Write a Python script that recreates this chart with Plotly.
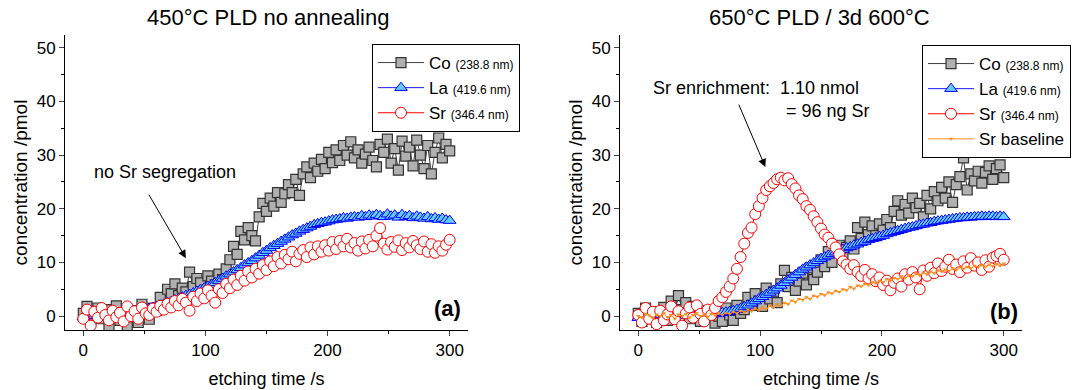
import plotly.graph_objects as go

# time axis (s), sampled every 3 s
t = list(range(0, 301, 3))

# ---- panel (a): 450°C PLD no annealing ----
co_a = [0.5, 1.8, -1.0, 0.8, 1.5, -0.5, 1.2, -1.8, 0.3, 1.9, -0.8, 0.6, -2.0, 1.0, 0.2, -1.2, 2.2, 0.5, -0.6, 1.5,
        1.0, 3.5, 2.0, 5.0, 4.2, 6.0, 3.8, 5.2, 4.5, 8.2,
        5.5, 7.0, 6.2, 4.8, 7.5, 6.5, 5.8, 7.8, 6.8, 8.8,
        10.5, 13.0, 11.5, 15.8, 14.2, 16.5, 15.0, 14.0, 18.5, 21.0,
        19.5, 22.0, 20.5, 23.0, 21.2, 22.8, 24.5, 23.0, 25.5, 22.5,
        26.5, 27.8, 25.8, 28.5, 27.0, 29.2, 27.5, 30.5, 28.6, 31.0,
        29.0, 31.8, 30.0, 32.5, 29.5, 31.0, 28.5, 30.2, 31.5, 29.0,
        27.8, 32.0, 30.5, 33.0, 28.5, 31.2, 27.2, 32.6, 29.8, 31.5,
        28.0, 32.8, 30.0, 27.5, 31.8, 26.5, 30.5, 33.2, 29.5, 32.0, 30.8]
la_a = [-0.2, 0.0, 0.2, 0.1, 0.3, 0.2, 0.4, 0.3, 0.5, 0.4, 0.6, 0.5, 0.7, 0.8, 0.9, 1.0, 1.1, 1.3, 1.4, 1.6,
        1.8, 2.0, 2.2, 2.5, 2.7, 3.0, 3.2, 3.5, 3.8, 4.0,
        4.3, 4.6, 4.9, 5.2, 5.5, 5.8, 6.2, 6.6, 7.0, 7.4,
        7.8, 8.2, 8.6, 9.0, 9.5, 9.9, 10.3, 10.8, 11.3, 11.8,
        12.2, 12.7, 13.1, 13.5, 13.9, 14.3, 14.7, 15.1, 15.4, 15.8,
        16.1, 16.4, 16.7, 17.0, 17.2, 17.4, 17.5, 17.7, 17.9, 18.0,
        18.1, 18.3, 18.2, 18.4, 18.5, 18.4, 18.7, 18.5, 18.8, 18.6,
        18.9, 18.7, 18.5, 19.0, 18.6, 18.8, 18.4, 18.9, 18.5, 18.7,
        18.3, 18.6, 18.4, 18.2, 18.5, 18.1, 18.3, 18.0, 18.2, 17.9, 17.8]
sr_a = [-0.5, 1.2, -1.8, 0.8, -0.3, 1.5, 0.2, -0.8, 1.0, -0.2, 0.6, -1.0, 1.8, 0.0, 0.9, -0.5, 1.6, 0.5, 0.2, 1.4,
        0.8, 1.9, 1.2, 2.3, 1.6, 2.8, 2.0, 3.2, 2.5, 1.0,
        3.6, 2.8, 4.2, 3.3, 4.8, 3.8, 2.5, 5.0, 4.3, 6.0,
        5.2, 6.8, 5.8, 7.5, 6.6, 8.3, 7.2, 8.8, 7.9, 9.5,
        8.6, 10.2, 9.3, 11.0, 9.8, 11.4, 10.6, 12.0, 10.2, 11.6,
        12.3, 11.0, 12.8, 11.5, 13.0, 12.0, 13.2, 12.2, 13.8, 12.5,
        14.0, 13.0, 14.4, 12.8, 13.6, 12.2, 13.9, 12.6, 14.2, 13.0,
        15.0, 16.4, 13.5, 12.4, 13.8, 12.9, 14.1, 12.3, 13.6, 12.8,
        14.0, 13.2, 12.5, 13.9, 12.0, 13.4, 11.8, 13.0, 12.2, 13.3, 14.2]

# ---- panel (b): 650°C PLD / 3d 600°C ----
co_b = [0.5, -1.0, 1.5, -0.5, 0.8, -1.2, 0.2, 1.6, -0.8, 2.8, 0.5, 3.8, 1.2, 2.5, -0.5, 1.8, 0.3, -1.0, 1.0, -0.3,
        0.8, -1.3, 0.0, -1.0, 1.5, 0.2, -0.8, 2.0, 0.5, 1.2,
        3.5, 2.0, 4.2, 2.8, 1.8, 5.2, 3.2, 4.5, 2.5, 6.0,
        8.5, 5.5, 7.2, 4.8, 6.5, 8.0, 5.8, 9.0, 6.8, 8.2,
        10.5, 9.2, 12.0, 10.0, 11.8, 13.2, 11.0, 12.8, 14.0, 12.5,
        16.5, 14.5, 17.5, 15.2, 16.8, 15.0, 17.2, 16.0, 18.0, 16.5,
        19.5, 21.5, 18.8, 20.8, 19.2, 22.0, 20.2, 21.0, 18.5, 22.5,
        20.0, 23.2, 21.5, 24.0, 22.0, 25.0, 21.2, 24.5, 26.0, 29.5,
        23.5, 26.5, 25.2, 27.0, 24.8, 26.8, 28.0, 25.5, 27.5, 28.2, 25.8]
la_b = [-0.3, 0.0, 0.2, -0.1, 0.1, 0.0, 0.2, 0.1, 0.0, 0.2, 0.1, 0.3, 0.2, 0.1, 0.3, 0.2, 0.4, 0.3, 0.2, 0.4,
        0.3, 0.5, 0.4, 0.6, 0.7, 0.8, 1.0, 1.2, 1.4, 1.7,
        2.0, 2.4, 2.8, 3.2, 3.6, 4.0, 4.4, 4.8, 5.2, 5.7,
        6.2, 6.7, 7.2, 7.7, 8.2, 8.7, 9.1, 9.5, 9.9, 10.3,
        10.7, 11.0, 11.3, 11.6, 11.9, 12.2, 12.4, 12.7, 12.9, 13.2,
        13.4, 13.7, 13.9, 14.2, 14.4, 14.6, 14.8, 15.0, 15.3, 15.5,
        15.7, 15.9, 16.1, 16.3, 16.5, 16.6, 16.8, 17.0, 17.1, 17.3,
        17.4, 17.6, 17.7, 17.8, 17.9, 18.0, 18.1, 18.2, 18.3, 18.3,
        18.4, 18.4, 18.5, 18.5, 18.6, 18.5, 18.6, 18.6, 18.5, 18.6, 18.5]
sr_b = [0.2, -1.2, 1.5, -0.5, 0.8, -1.5, 1.0, -0.8, 0.3, 1.8, -0.6, 0.9, -1.8, 0.5, 1.6, -0.3, 2.0, 0.4, -1.0, 1.2,
        0.2, 1.5, 2.8, 3.5, 4.5, 5.5, 7.0, 8.8, 11.0, 13.5,
        15.5, 16.5, 19.0, 20.5, 22.0, 23.5, 24.2, 24.8, 25.5, 25.8,
        25.3, 25.7, 24.6, 23.8, 22.5, 21.8, 20.5, 19.8, 18.6, 17.5,
        16.3, 15.2, 14.6, 13.5, 12.8, 11.5, 10.2, 9.6, 8.8, 9.5,
        8.2, 7.5, 8.6, 7.0, 7.8, 6.5, 7.2, 5.8, 6.6, 4.8,
        6.2, 7.0, 5.5, 7.8, 6.8, 8.2, 7.2, 5.0, 8.5, 7.5,
        9.0, 8.0, 9.8, 8.4, 9.2, 10.5, 8.8, 9.6, 8.2, 10.2,
        9.0, 10.8, 9.4, 10.0, 8.6, 10.4, 9.2, 10.9, 11.2, 11.6, 10.5]
base_b = [0.0, -0.3, 0.4, 0.1, -0.4, 0.3, 0.0, 0.5, -0.2, 0.2, -0.5, 0.3, 0.0, 0.4, -0.3, 0.2, 0.5, 0.0, 0.3, -0.2,
          0.4, 0.1, 0.5, 0.2, 0.6, 0.4, 0.8, 0.5, 1.0, 0.7,
          1.2, 0.9, 1.4, 1.1, 1.6, 1.3, 1.9, 1.6, 2.2, 1.9,
          2.5, 2.2, 2.9, 2.6, 3.2, 3.0, 3.5, 3.2, 3.8, 3.6,
          4.1, 3.9, 4.4, 4.2, 4.7, 4.5, 5.0, 4.8, 5.4, 5.1,
          5.7, 5.5, 6.0, 5.8, 6.3, 6.1, 6.6, 6.3, 6.9, 6.6,
          7.1, 6.9, 7.4, 7.1, 7.6, 7.4, 7.9, 7.6, 8.1, 7.8,
          8.3, 8.0, 8.5, 8.3, 8.7, 8.4, 8.9, 8.6, 9.1, 8.8,
          9.2, 8.9, 9.4, 9.1, 9.5, 9.2, 9.6, 9.3, 9.7, 9.4, 9.8]

FONT = "Arial, Liberation Sans, sans-serif"
small = "<span style='font-size:12px'>"
names = {
    "co": "Co " + small + "(238.8 nm)</span>",
    "la": "La " + small + "(419.6 nm)</span>",
    "sr": "Sr " + small + "(346.4 nm)</span>",
}

co_style = dict(mode="lines+markers", line=dict(color="#404040", width=1),
                marker=dict(symbol="square", size=10, color="#b0b0b0", line=dict(color="#333333", width=1.2)))
la_style = dict(mode="lines+markers", line=dict(color="#1a1aff", width=1),
                marker=dict(symbol="triangle-up", size=11, color="#66ccff", line=dict(color="#0000ff", width=1)))
sr_style = dict(mode="lines+markers", line=dict(color="#ff0000", width=1),
                marker=dict(symbol="circle", size=11, color="white", line=dict(color="#ff0000", width=1)))

fig = go.Figure()
fig.add_trace(go.Scatter(x=t, y=co_a, name=names["co"], xaxis="x", yaxis="y", legend="legend", **co_style))
fig.add_trace(go.Scatter(x=t, y=la_a, name=names["la"], xaxis="x", yaxis="y", legend="legend", **la_style))
fig.add_trace(go.Scatter(x=t, y=sr_a, name=names["sr"], xaxis="x", yaxis="y", legend="legend", **sr_style))

fig.add_trace(go.Scatter(x=t, y=co_b, name=names["co"], xaxis="x2", yaxis="y2", legend="legend2", **co_style))
fig.add_trace(go.Scatter(x=t, y=la_b, name=names["la"], xaxis="x2", yaxis="y2", legend="legend2", **la_style))
fig.add_trace(go.Scatter(x=t, y=sr_b, name=names["sr"], xaxis="x2", yaxis="y2", legend="legend2", **sr_style))
fig.add_trace(go.Scatter(x=t, y=base_b, name="Sr baseline", xaxis="x2", yaxis="y2", legend="legend2",
                         mode="lines+markers", line=dict(color="#ff8c1a", width=1),
                         marker=dict(symbol="triangle-down", size=4, color="#ff8c1a")))

xcommon = dict(range=[-15, 315], dtick=100, tick0=0, ticks="outside", ticklen=5, tickwidth=1,
               showline=True, linecolor="black", linewidth=1, showgrid=False, zeroline=False,
               tickfont=dict(size=17, color="black", family=FONT),
               minor=dict(ticks="outside", ticklen=3, dtick=50, tick0=0, tickcolor="black", showgrid=False),
               title=dict(text="etching time /s", font=dict(size=18, color="black", family=FONT), standoff=12))
ycommon = dict(range=[-2.6, 52.4], dtick=10, tick0=0, ticks="outside", ticklen=5, tickwidth=1,
               showline=True, linecolor="black", linewidth=1, showgrid=False, zeroline=False,
               tickfont=dict(size=17, color="black", family=FONT),
               minor=dict(ticks="outside", ticklen=3, dtick=5, tick0=0, tickcolor="black", showgrid=False),
               title=dict(text="concentration /pmol", font=dict(size=19, color="black", family=FONT), standoff=4))

ydom = [60 / 390, 355 / 390]
leg_common = dict(xanchor="left", yanchor="top", bordercolor="black", borderwidth=1, bgcolor="white",
                  font=dict(size=17, family=FONT, color="black"), tracegroupgap=0, itemwidth=46)
fig.update_layout(
    width=1079, height=390,
    margin=dict(l=0, r=0, t=0, b=0),
    paper_bgcolor="white", plot_bgcolor="white",
    font=dict(family=FONT, color="black"),
    xaxis=dict(domain=[65 / 1079, 468 / 1079], anchor="y", **xcommon),
    yaxis=dict(domain=ydom, anchor="x", **ycommon),
    xaxis2=dict(domain=[620 / 1079, 1022 / 1079], anchor="y2", **xcommon),
    yaxis2=dict(domain=ydom, anchor="x2", **ycommon),
    legend=dict(x=372 / 1079, y=(390 - 44) / 390, **leg_common),
    legend2=dict(x=922 / 1079, y=(390 - 45) / 390, **leg_common),
    showlegend=True,
)

annotations = [
    dict(text="450°C PLD no annealing", x=268 / 1079, y=(390 - 18) / 390, xref="paper", yref="paper",
         xanchor="center", yanchor="middle", showarrow=False, font=dict(size=22, family=FONT, color="black")),
    dict(text="650°C PLD / 3d 600°C", x=820 / 1079, y=(390 - 18) / 390, xref="paper", yref="paper",
         xanchor="center", yanchor="middle", showarrow=False, font=dict(size=22, family=FONT, color="black")),
    dict(text="no Sr segregation", x=165 / 1079, y=(390 - 172) / 390, xref="paper", yref="paper",
         xanchor="center", yanchor="middle", showarrow=False, font=dict(size=18, family=FONT, color="black")),
    dict(text="", x=84, y=10.8, xref="x", yref="y", ax=53, ay=22.9, axref="x", ayref="y",
         showarrow=True, arrowhead=2, arrowsize=1.6, arrowwidth=1, arrowcolor="black"),
    dict(text="Sr enrichment:  1.10 nmol", x=651 / 1079, y=(390 - 88) / 390, xref="paper", yref="paper",
         xanchor="left", yanchor="middle", showarrow=False, font=dict(size=18, family=FONT, color="black")),
    dict(text="= 96 ng Sr", x=784 / 1079, y=(390 - 111) / 390, xref="paper", yref="paper",
         xanchor="left", yanchor="middle", showarrow=False, font=dict(size=18, family=FONT, color="black")),
    dict(text="", x=104.3, y=27.8, xref="x2", yref="y2", ax=82, ay=39.7, axref="x2", ayref="y2",
         showarrow=True, arrowhead=2, arrowsize=1.6, arrowwidth=1, arrowcolor="black"),
    dict(text="<b>(a)</b>", x=447 / 1079, y=(390 - 308) / 390, xref="paper", yref="paper",
         xanchor="center", yanchor="middle", showarrow=False, font=dict(size=22, family=FONT, color="black")),
    dict(text="<b>(b)</b>", x=1004 / 1079, y=(390 - 311) / 390, xref="paper", yref="paper",
         xanchor="center", yanchor="middle", showarrow=False, font=dict(size=22, family=FONT, color="black")),
]
fig.update_layout(annotations=annotations)

fig.write_html("out.html")
